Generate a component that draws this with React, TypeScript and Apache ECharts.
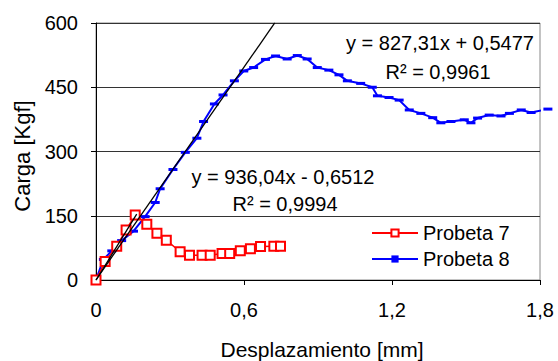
import React, { useEffect, useRef } from "react";
import * as echarts from "echarts";

const seriesNames = ["Probeta 7", "Probeta 8"];

const x7 = [0, 0.037, 0.084, 0.122, 0.159, 0.206, 0.247, 0.285, 0.341, 0.379, 0.43, 0.463, 0.511, 0.542, 0.585, 0.626, 0.667, 0.721, 0.748];
const y7 = [0, 43, 79, 117, 152, 130, 109, 93, 66, 58, 58, 58, 62, 62, 68, 73, 78, 79, 79];

const x8 = [0, 0.03, 0.064, 0.104, 0.152, 0.199, 0.24, 0.26, 0.312, 0.362, 0.409, 0.436, 0.48, 0.515, 0.561, 0.599, 0.639, 0.687, 0.728, 0.775, 0.816, 0.856, 0.897, 0.944, 0.985, 1.019, 1.073, 1.12, 1.141, 1.188, 1.229, 1.27, 1.317, 1.365, 1.398, 1.439, 1.493, 1.52, 1.547, 1.594, 1.642, 1.676, 1.724, 1.764, 1.832];
const y8 = [0, 48, 68, 92, 114, 148, 181, 213, 258, 298, 331, 370, 411, 432, 465, 488, 496, 515, 523, 516, 524, 516, 496, 490, 479, 465, 459, 450, 430, 426, 420, 397, 389, 379, 367, 370, 374, 367, 378, 385, 383, 389, 397, 391, 399];

// trendlines (coefficients shown on chart)
const trend7 = { a: 936.04, b: -0.6512, xs: [0, 0.165] };
const trend8 = { a: 827.31, b: 0.5477, xs: [0, 0.7246] };

const eq7 = ["y = 936,04x - 0,6512", "R² = 0,9994"];
const eq8 = ["y = 827,31x + 0,5477", "R² = 0,9961"];

const xTickLabels = ["0", "0,6", "1,2", "1,8"];
const yTicks = [0, 150, 300, 450, 600];
const xTitle = "Desplazamiento [mm]";
const yTitle = "Carga [Kgf]";

const FONT = "Liberation Sans";

export default function App() {
  const ref = useRef<HTMLDivElement>(null);
  useEffect(() => {
    if (!ref.current) return;
    const chart = echarts.init(ref.current, undefined, { renderer: "svg" });
    const pairs = (xs: number[], ys: number[]) => xs.map((x, i) => [x, ys[i]]);
    const trend = (t: { a: number; b: number; xs: number[] }) => t.xs.map((x) => [x, t.a * x + t.b]);
    const txt = (text: string, x: number, y: number, size: number, extra: any = {}) => ({
      type: "text",
      x,
      y,
      ...extra,
      style: { text, font: `${size}px "${FONT}"`, fill: "#000", align: "center", verticalAlign: "middle" },
    });
    chart.setOption({
      animation: false,
      textStyle: { fontFamily: FONT },
      grid: { left: 96, right: 18, top: 23, bottom: 81, show: true, borderColor: "#888", borderWidth: 1 },
      xAxis: {
        type: "value",
        min: 0,
        max: 1.8,
        interval: 0.6,
        axisLine: { onZero: false, lineStyle: { color: "#000", width: 1 } },
        axisTick: { show: true, inside: false, length: 5, lineStyle: { color: "#000" } },
        axisLabel: {
          color: "#000",
          fontSize: 20,
          fontFamily: FONT,
          margin: 20,
          formatter: (v: number) => xTickLabels[Math.round(v / 0.6)] ?? "",
        },
        splitLine: { show: false },
      },
      yAxis: {
        type: "value",
        min: yTicks[0],
        max: yTicks[yTicks.length - 1],
        interval: 150,
        axisLine: { show: true, lineStyle: { color: "#000", width: 1 } },
        axisTick: { show: true, inside: false, length: 5, lineStyle: { color: "#000" } },
        axisLabel: { color: "#000", fontSize: 20, fontFamily: FONT, margin: 18 },
        splitLine: { show: true, lineStyle: { color: "#333", width: 1 } },
      },
      legend: {
        orient: "vertical",
        left: 371,
        top: 223,
        padding: 0,
        itemWidth: 46,
        itemHeight: 9,
        itemGap: 6,
        data: seriesNames,
        textStyle: { fontSize: 20, fontFamily: FONT, color: "#000" },
      },
      series: [
        {
          name: seriesNames[0],
          type: "line",
          data: pairs(x7, y7),
          symbol: "emptyRect",
          symbolSize: 9,
          lineStyle: { color: "#ff0000", width: 1.5 },
          itemStyle: { color: "#ff0000", borderWidth: 1.3 },
          z: 3,
        },
        {
          name: seriesNames[1],
          type: "line",
          data: pairs(x8, y8),
          symbol: "rect",
          symbolSize: [9, 3],
          clip: false,
          lineStyle: { color: "#0000ff", width: 2 },
          itemStyle: { color: "#0000ff" },
          z: 2,
        },
        {
          name: "trend7",
          type: "line",
          data: trend(trend7),
          symbol: "none",
          lineStyle: { color: "#000", width: 1.3 },
          z: 4,
        },
        {
          name: "trend8",
          type: "line",
          data: trend(trend8),
          symbol: "none",
          lineStyle: { color: "#000", width: 1.3 },
          z: 4,
        },
      ],
      graphic: [
        txt(eq8[0], 440, 43, 20),
        txt(eq8[1], 438, 72, 20),
        txt(eq7[0], 283, 177, 20),
        txt(eq7[1], 285, 204, 20),
        txt(xTitle, 322, 349, 21),
        txt(yTitle, 22, 156, 22, { rotation: Math.PI / 2 }),
      ],
    });
    return () => chart.dispose();
  }, []);
  return <div ref={ref} style={{ width: 558, height: 361, position: "absolute", left: 0, top: 0 }} />;
}
